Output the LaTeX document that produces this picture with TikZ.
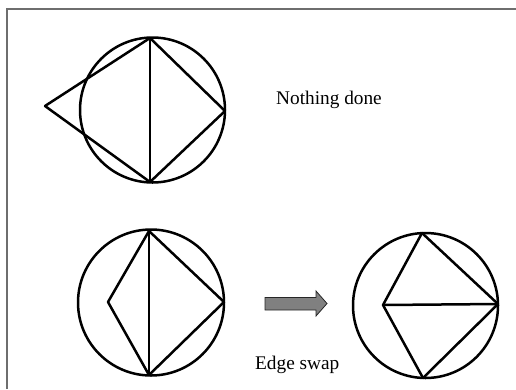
\documentclass[tikz,border=0pt]{standalone}
\usepackage{fontspec}
\setmainfont{Liberation Serif}
\begin{document}
\begin{tikzpicture}[x=1pt,y=-1pt,
  edge/.style={line width=2.5pt,line join=round,line cap=round},
  ring/.style={line width=2.5pt},
  frameline/.style={line width=2pt,draw={rgb,255:red,110;green,110;blue,110}},
  label/.style={font=\fontsize{19.3}{23}\selectfont,anchor=base west,inner sep=0pt},
  bigarrow/.style={draw=black!85,line width=0.8pt,fill={rgb,255:red,128;green,128;blue,128},line join=miter}]
\useasboundingbox (0,0) rectangle (516,389);
% frame (only top and left edges visible)
\coordinate (fa) at (6.5,389);
\coordinate (fb) at (6.5,8.5);
\coordinate (fc) at (516,8.5);
\draw[frameline] (fa) -- (fb) -- (fc);

% top figure
\coordinate (C1) at (152.5,110);
\coordinate (T1) at (150,38);
\coordinate (B1) at (150,182);
\coordinate (R1) at (225,111);
\coordinate (L1) at (45,106);
\draw[ring] (C1) circle[radius=72.5];
\draw[edge] (L1) -- (T1);
\draw[edge] (L1) -- (B1);
\draw[edge] (T1) -- (B1);
\draw[edge] (T1) -- (R1);
\draw[edge] (R1) -- (B1);
\node[label] (nd) at (276,104) {Nothing done};

% bottom-left figure
\coordinate (C2) at (151,302.5);
\coordinate (T2) at (149,231);
\coordinate (B2) at (149,375);
\coordinate (R2) at (224,302);
\coordinate (L2) at (108,302);
\draw[ring] (C2) circle[radius=73];
\draw[edge] (T2) -- (L2);
\draw[edge] (L2) -- (B2);
\draw[edge] (T2) -- (B2);
\draw[edge] (T2) -- (R2);
\draw[edge] (R2) -- (B2);

% arrow
\draw[bigarrow] (265,297.5) -- (316,297.5) -- (316,291) -- (327,303.5) -- (316,316) -- (316,310) -- (265,310) -- cycle;
\node[label] (es) at (255,369) {Edge swap};

% bottom-right figure
\coordinate (C3) at (425.5,305.5);
\coordinate (T3) at (422,233);
\coordinate (B3) at (423,378);
\coordinate (R3) at (498,304);
\coordinate (L3) at (383,305);
\draw[ring] (C3) circle[radius=72.5];
\draw[edge] (T3) -- (L3);
\draw[edge] (L3) -- (B3);
\draw[edge] (L3) -- (R3);
\draw[edge] (T3) -- (R3);
\draw[edge] (R3) -- (B3);
\end{tikzpicture}
\end{document}
